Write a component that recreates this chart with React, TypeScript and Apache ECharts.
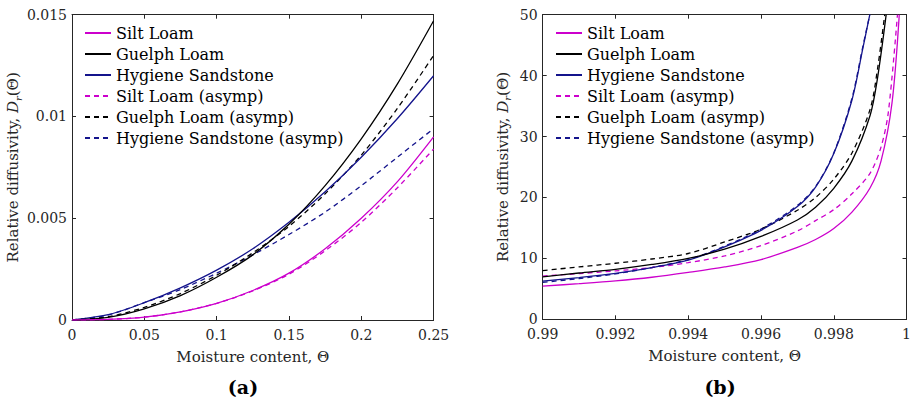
import React, { useEffect, useRef } from "react";
import * as echarts from "echarts";

// ---------- data: panel (a) ----------
const leftTheta = [0, 0.025, 0.05, 0.075, 0.1, 0.125, 0.15, 0.175, 0.2, 0.225, 0.25];
const leftSilt = [0, 0.00003, 0.00014, 0.0004, 0.00082, 0.00145, 0.0023, 0.0035, 0.005, 0.0068, 0.009];
const leftGuelph = [0, 0.00013, 0.00055, 0.0012, 0.0021, 0.0032, 0.0047, 0.0066, 0.0089, 0.0116, 0.0147];
const leftHygiene = [0, 0.00026, 0.00085, 0.00158, 0.00245, 0.0035, 0.0048, 0.0063, 0.008, 0.0099, 0.012];
const leftSiltAsymp = [0, 0.00003, 0.00014, 0.0004, 0.00082, 0.00143, 0.00225, 0.0034, 0.0048, 0.0065, 0.0084];
const leftGuelphAsymp = [0, 0.00016, 0.00062, 0.0013, 0.0022, 0.0033, 0.0046, 0.0062, 0.0081, 0.0104, 0.013];
const leftHygieneAsymp = [0, 0.00025, 0.00085, 0.0015, 0.0023, 0.0032, 0.0042, 0.0053, 0.0066, 0.008, 0.0094];

// ---------- data: panel (b) ----------
const rightSiltTheta = [0.99, 0.991, 0.992, 0.993, 0.994, 0.995, 0.996, 0.997, 0.9975, 0.998, 0.9985, 0.999, 0.9993, 0.9996, 0.9998];
const rightSilt = [5.45, 5.85, 6.3, 6.9, 7.7, 8.6, 9.8, 11.8, 13.1, 14.9, 17.6, 21.6, 26.0, 35.5, 50];
const rightSiltAsympTheta = [0.99, 0.991, 0.992, 0.993, 0.994, 0.995, 0.996, 0.997, 0.9975, 0.998, 0.9985, 0.999, 0.9993, 0.9995, 0.99975];
const rightSiltAsymp = [7.1, 7.5, 7.95, 8.5, 9.3, 10.4, 12.1, 14.5, 16.2, 18.0, 20.6, 24.0, 28.3, 34.0, 50];
const rightGuelphTheta = [0.99, 0.991, 0.992, 0.993, 0.994, 0.995, 0.996, 0.997, 0.9975, 0.998, 0.9985, 0.999, 0.9992, 0.99944];
const rightGuelph = [6.95, 7.6, 8.2, 9.0, 10.0, 11.5, 13.6, 16.3, 18.4, 21.5, 26.0, 33.5, 39.5, 50];
const rightGuelphAsympTheta = [0.99, 0.991, 0.992, 0.993, 0.994, 0.995, 0.996, 0.997, 0.9975, 0.998, 0.9985, 0.999, 0.9992, 0.9994];
const rightGuelphAsymp = [8.0, 8.6, 9.2, 9.9, 10.8, 12.7, 14.8, 17.9, 20.0, 23.0, 27.3, 34.5, 41.0, 50];
const rightHygieneTheta = [0.99, 0.991, 0.992, 0.993, 0.994, 0.995, 0.996, 0.997, 0.9975, 0.998, 0.9985, 0.9988, 0.99899];
const rightHygiene = [6.25, 6.85, 7.55, 8.5, 9.7, 11.9, 14.6, 18.5, 21.7, 27.2, 36.0, 44.5, 50];
const rightHygieneAsympTheta = [0.99, 0.991, 0.992, 0.993, 0.994, 0.995, 0.996, 0.997, 0.9975, 0.998, 0.9985, 0.9988, 0.99899];
const rightHygieneAsymp = [6.05, 6.7, 7.45, 8.5, 9.8, 12.0, 14.8, 18.7, 21.8, 27.3, 36.3, 44.8, 50];

const seriesNames = [
  "Silt Loam",
  "Guelph Loam",
  "Hygiene Sandstone",
  "Silt Loam (asymp)",
  "Guelph Loam (asymp)",
  "Hygiene Sandstone (asymp)",
];
const seriesColors = ["#cc00cc", "#000000", "#14148c", "#cc00cc", "#000000", "#14148c"];
const seriesDashed = [false, false, false, true, true, true];

const leftValues = [leftSilt, leftGuelph, leftHygiene, leftSiltAsymp, leftGuelphAsymp, leftHygieneAsymp];
const rightThetas = [rightSiltTheta, rightGuelphTheta, rightHygieneTheta, rightSiltAsympTheta, rightGuelphAsympTheta, rightHygieneAsympTheta];
const rightValues = [rightSilt, rightGuelph, rightHygiene, rightSiltAsymp, rightGuelphAsymp, rightHygieneAsymp];

const leftXTicks = { min: 0, max: 0.25, interval: 0.05 };
const leftYTicks = { min: 0, max: 0.015, interval: 0.005 };
const rightXTicks = { min: 0.99, max: 1, interval: 0.002 };
const rightYTicks = { min: 0, max: 50, interval: 10 };

const FONT = "DejaVu Serif";
const AXIS_COLOR = "#262626";

export default function App() {
  const ref = useRef<HTMLDivElement>(null);

  useEffect(() => {
    if (!ref.current) return;
    const chart = echarts.init(ref.current, undefined, { renderer: "svg" });

    const axisCommon = {
      type: "value" as const,
      axisLine: { show: true, onZero: false, lineStyle: { color: AXIS_COLOR, width: 1 } },
      axisTick: { show: true, inside: true, length: 4, lineStyle: { color: AXIS_COLOR, width: 1 } },
      splitLine: { show: false },
    };
    const labelStyle = { fontFamily: FONT, fontSize: 14, color: AXIS_COLOR };
    const nameStyle = {
      fontFamily: FONT,
      fontSize: 15,
      color: AXIS_COLOR,
    };
    const yNameRich = {
      fontFamily: FONT,
      fontSize: 15,
      color: AXIS_COLOR,
      rich: {
        a: { fontFamily: FONT, fontSize: 15, color: AXIS_COLOR, lineHeight: 20 },
        i: { fontFamily: FONT, fontSize: 15, fontStyle: "italic", color: AXIS_COLOR, lineHeight: 20 },
        s: { fontFamily: FONT, fontSize: 10, fontStyle: "italic", color: AXIS_COLOR, verticalAlign: "bottom", lineHeight: 20 },
      },
    };
    const yName = "{a|Relative diffusivity, }{i|D}{s|r}{a|(Θ)}";

    const mkX = (grid: number, t: any, main: boolean) => ({
      ...axisCommon,
      gridIndex: grid,
      position: main ? "bottom" : "top",
      min: t.min,
      max: t.max,
      interval: t.interval,
      axisLabel: main ? { show: true, margin: 8, ...labelStyle } : { show: false },
      name: main ? "Moisture content, Θ" : "",
      nameLocation: "middle",
      nameGap: 29,
      nameTextStyle: nameStyle,
    });
    const mkY = (grid: number, t: any, main: boolean, gap: number) => ({
      ...axisCommon,
      gridIndex: grid,
      position: main ? "left" : "right",
      min: t.min,
      max: t.max,
      interval: t.interval,
      axisLabel: main ? { show: true, margin: 5, ...labelStyle } : { show: false },
      name: main ? yName : "",
      nameLocation: "middle",
      nameRotate: 90,
      nameGap: gap,
      nameTextStyle: yNameRich,
    });

    const series: any[] = [];
    seriesNames.forEach((name, k) => {
      const lineStyle = {
        color: seriesColors[k],
        width: 1.3,
        type: seriesDashed[k] ? [5, 4] : "solid",
      };
      series.push({
        name,
        type: "line",
        xAxisIndex: 0,
        yAxisIndex: 0,
        data: leftTheta.map((x, i) => [x, leftValues[k][i]]),
        showSymbol: false,
        symbol: "none",
        smooth: 0.3,
        color: seriesColors[k],
        lineStyle,
        z: 10 - k,
      });
      series.push({
        name,
        type: "line",
        xAxisIndex: 2,
        yAxisIndex: 2,
        data: rightThetas[k].map((x, i) => [x, rightValues[k][i]]),
        showSymbol: false,
        symbol: "none",
        smooth: 0.3,
        color: seriesColors[k],
        lineStyle,
        z: 10 - k,
      });
    });

    const legendCommon = {
      orient: "vertical" as const,
      data: seriesNames,
      itemWidth: 26,
      itemHeight: 10,
      itemGap: 5,
      selectedMode: false,
      itemStyle: { opacity: 0 },
      textStyle: { fontFamily: FONT, fontSize: 16, color: "#000" },
    };

    chart.setOption({
      animation: false,
      backgroundColor: "#ffffff",
      textStyle: { fontFamily: FONT },
      grid: [
        { left: 72, top: 14.7, width: 361.6, height: 305.3 },
        { left: 542.7, top: 14.7, width: 368, height: 304.6 },
      ],
      xAxis: [mkX(0, leftXTicks, true), mkX(0, leftXTicks, false), mkX(1, rightXTicks, true), mkX(1, rightXTicks, false)],
      yAxis: [mkY(0, leftYTicks, true, 45), mkY(0, leftYTicks, false, 0), mkY(1, rightYTicks, true, 30), mkY(1, rightYTicks, false, 0)],
      legend: [
        { ...legendCommon, left: 79, top: 20 },
        { ...legendCommon, left: 550, top: 20 },
      ],
      graphic: [
        {
          type: "text",
          x: 243,
          y: 387,
          style: { text: "(a)", font: `bold 19px "${FONT}"`, fill: "#000", align: "center", verticalAlign: "middle" },
        },
        {
          type: "text",
          x: 720,
          y: 387,
          style: { text: "(b)", font: `bold 19px "${FONT}"`, fill: "#000", align: "center", verticalAlign: "middle" },
        },
      ],
      series,
    });

    return () => chart.dispose();
  }, []);

  return <div ref={ref} style={{ position: "absolute", left: 0, top: 0, width: 914, height: 403 }} />;
}
